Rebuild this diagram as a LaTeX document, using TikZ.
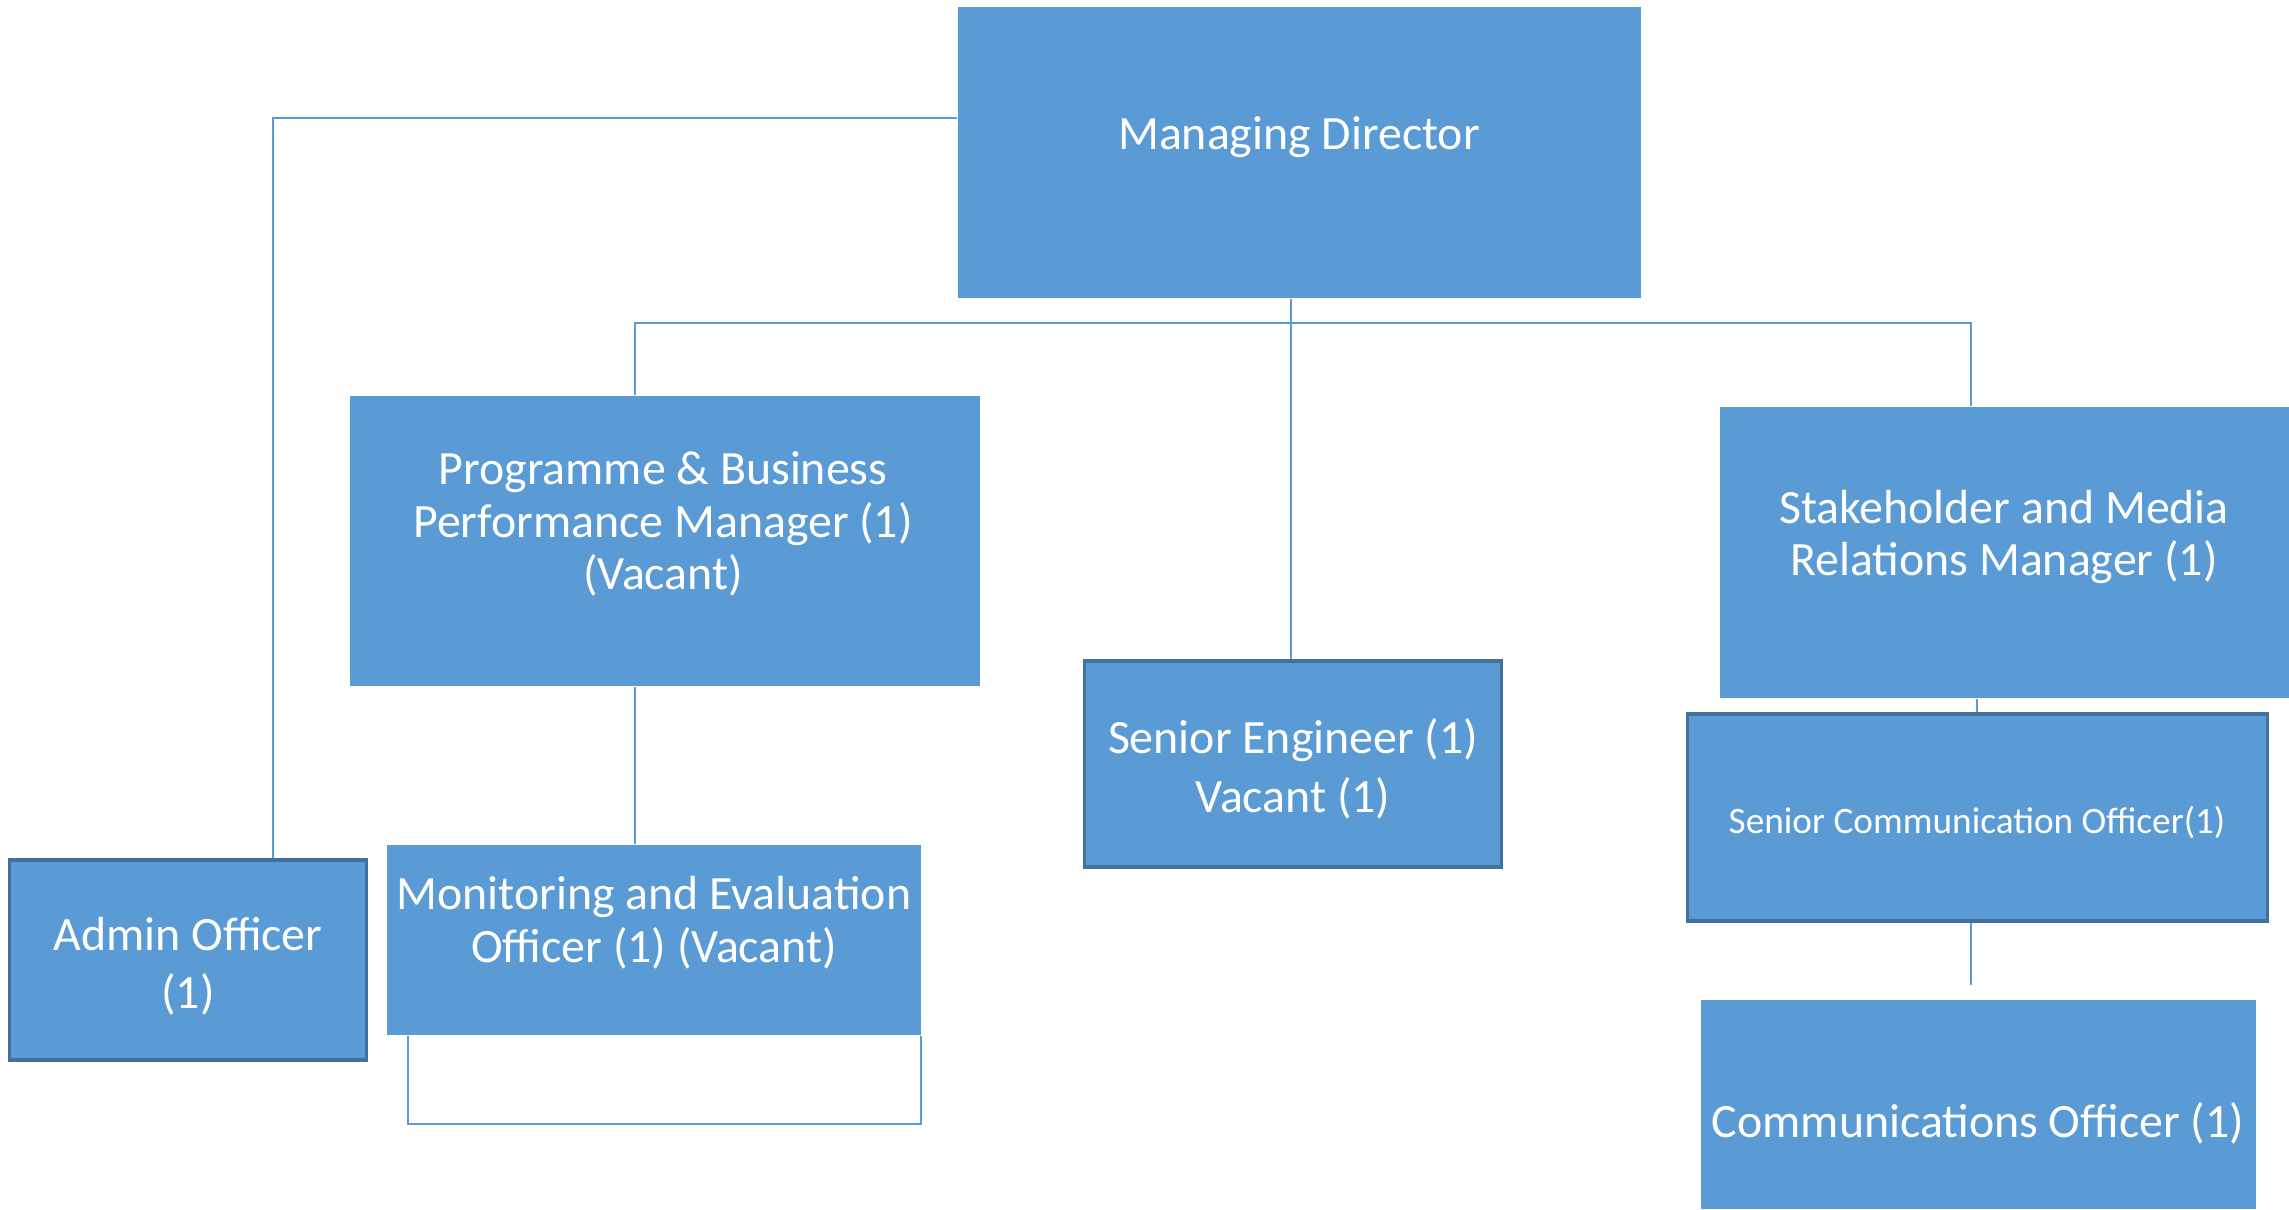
\documentclass[tikz,border=0pt]{standalone}
\usepackage{fontspec}
\setmainfont{Carlito}
\definecolor{boxblue}{HTML}{5B9BD5}
\definecolor{boxedge}{HTML}{41719C}
\tikzset{
    box/.style={fill=boxblue, inner sep=0pt},
    darkbox/.style={box, draw=boxedge, line width=0.9pt},
    txt/.style={text=white, align=center, font=\fontsize{13.6}{15}\selectfont},
    wide/.style={font=\fontsize{13.6}{16.6}\selectfont},
    link/.style={draw=boxblue, line width=0.5pt}
}
\begin{document}
\begin{tikzpicture}[x=0.01cm,y=-0.01cm]
    \useasboundingbox (0,0) rectangle (2289,1210);
    % boxes
    \node[box, minimum width=6.83cm, minimum height=2.91cm] (md) at (1299.5,152.5) {};
    \node[box, minimum width=6.30cm, minimum height=2.90cm] (prog) at (665,541) {};
    \node[darkbox, minimum width=4.16cm, minimum height=2.06cm] (seng) at (1293,764) {};
    \node[box, minimum width=5.69cm, minimum height=2.91cm] (stake) at (2004.5,552.5) {};
    \node[darkbox, minimum width=5.79cm, minimum height=2.07cm] (scom) at (1977.5,817.5) {};
    \node[box, minimum width=5.55cm, minimum height=2.09cm] (comm) at (1978.5,1104.5) {};
    \node[darkbox, minimum width=3.56cm, minimum height=2.00cm] (admin) at (188,960) {};
    \node[box, minimum width=5.34cm, minimum height=1.90cm] (mon) at (654,940) {};
    % texts
    \node[txt] (mdtxt) at (1299,137) {Managing Director};
    \node[txt] (progtxt) at (663,524) {Programme \& Business\\Performance Manager (1)\\(Vacant)};
    \node[txt, wide] (sengtxt) at (1293,769) {Senior Engineer (1)\\Vacant (1)};
    \node[txt] (staketxt) at (2004,537) {Stakeholder and Media\\Relations Manager (1)};
    \node[txt, font=\fontsize{10.6}{12.6}\selectfont] (scomtxt) at (1977,822) {Senior Communication Officer(1)};
    \node[txt] (commtxt) at (1978,1123) {Communications Officer (1)};
    \node[txt, wide] (admintxt) at (188,966) {Admin Officer\\(1)};
    \node[txt] (montxt) at (654,923) {Monitoring and Evaluation\\Officer (1) (Vacant)};
    % connectors
    \coordinate (leftbus) at (273,118);
    \coordinate (hbus) at (1291,323);
    \coordinate (commend) at (1971,985);
    \draw[link] (md.west |- leftbus) -| (leftbus |- admin.north);
    \draw[link] (hbus |- md.south) -- (hbus |- seng.north);
    \draw[link] (635,0 |- prog.north) |- (hbus) -| (1971,0 |- stake.north);
    \draw[link] (635,0 |- prog.south) -- (635,0 |- mon.north);
    \draw[link] (1977,0 |- stake.south) -- (1977,0 |- scom.north);
    \draw[link] (commend |- scom.south) -- (commend);
    \draw[link, line width=0.6pt] ([xshift=0.22cm]mon.south west) -- ++(0,88) -| ([xshift=-0.01cm]mon.south east);
\end{tikzpicture}
\end{document}
